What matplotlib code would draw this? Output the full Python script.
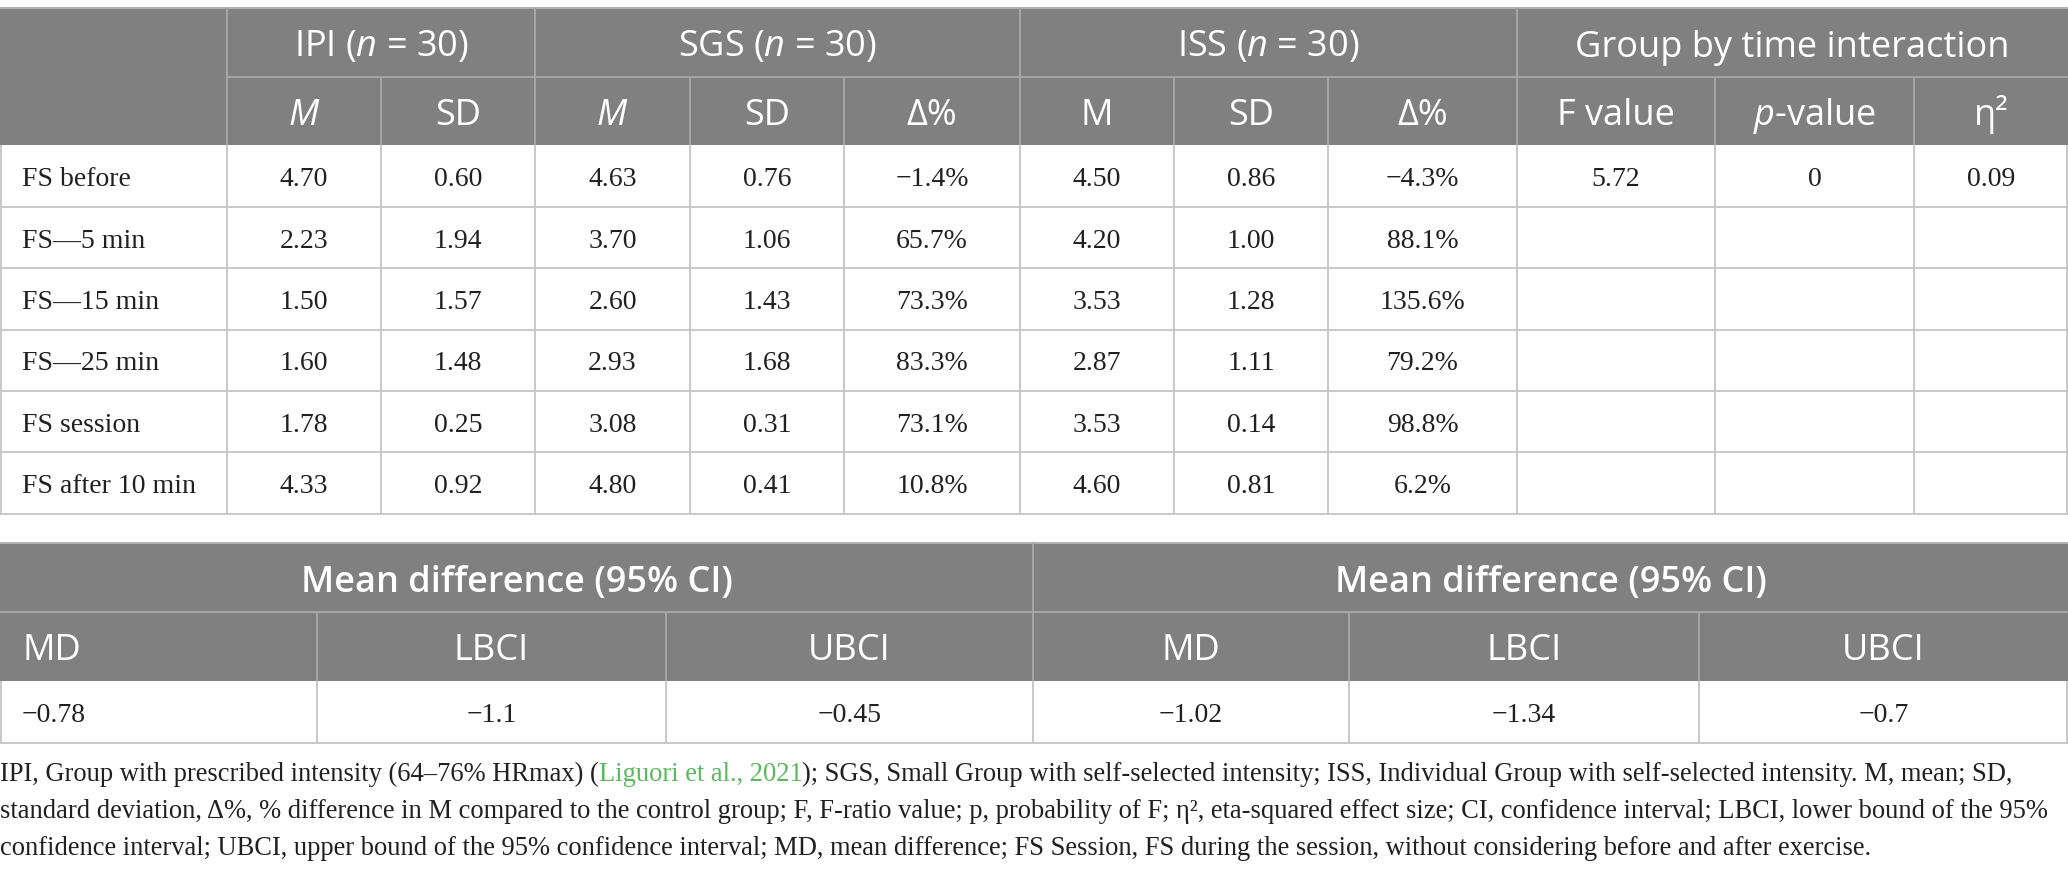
import matplotlib
matplotlib.use("Agg")
import matplotlib.pyplot as plt
from matplotlib.patches import Rectangle

# ---- data ----
row_labels = ["FS before", "FS\u20145 min", "FS\u201415 min", "FS\u201425 min", "FS session", "FS after 10 min"]
ipi_m = ["4.70", "2.23", "1.50", "1.60", "1.78", "4.33"]
ipi_sd = ["0.60", "1.94", "1.57", "1.48", "0.25", "0.92"]
sgs_m = ["4.63", "3.70", "2.60", "2.93", "3.08", "4.80"]
sgs_sd = ["0.76", "1.06", "1.43", "1.68", "0.31", "0.41"]
sgs_delta = ["\u22121.4%", "65.7%", "73.3%", "83.3%", "73.1%", "10.8%"]
iss_m = ["4.50", "4.20", "3.53", "2.87", "3.53", "4.60"]
iss_sd = ["0.86", "1.00", "1.28", "1.11", "0.14", "0.81"]
iss_delta = ["\u22124.3%", "88.1%", "135.6%", "79.2%", "98.8%", "6.2%"]
f_value = ["5.72", "", "", "", "", ""]
p_value = ["0", "", "", "", "", ""]
eta_sq = ["0.09", "", "", "", "", ""]

group_labels = ["IPI ($n$ = 30)", "SGS ($n$ = 30)", "ISS ($n$ = 30)", "Group by time interaction"]
sub_labels = ["$M$", "SD", "$M$", "SD", "\u0394%", "M", "SD", "\u0394%", "F value", "$p$-value", "\u03b7\u00b2"]

md_title = "Mean difference (95% CI)"
md_cols = ["MD", "LBCI", "UBCI"]
md_left = ["\u22120.78", "\u22121.1", "\u22120.45"]
md_right = ["\u22121.02", "\u22121.34", "\u22120.7"]

caption = [
    [("IPI, Group with prescribed intensity (64\u201376% HRmax) (", "k"),
     ("Liguori et al., 2021", "green"),
     ("); SGS, Small Group with self-selected intensity; ISS, Individual Group with self-selected intensity. M, mean; SD,", "k")],
    [("standard deviation, \u0394%, % difference in M compared to the control group; F, F-ratio value; p, probability of F; \u03b7\u00b2, eta-squared effect size; CI, confidence interval; LBCI, lower bound of the 95%", "k")],
    [("confidence interval; UBCI, upper bound of the 95% confidence interval; MD, mean difference; FS Session, FS during the session, without considering before and after exercise.", "k")],
]

# ---- style ----
plt.rcParams["mathtext.fontset"] = "custom"
plt.rcParams["mathtext.rm"] = "Open Sans"
plt.rcParams["mathtext.it"] = "Open Sans:italic"
plt.rcParams["mathtext.bf"] = "Open Sans:bold"

HEAD = "#808080"
HEAD_LINE = "#a8a8a8"
BODY_LINE = "#c4c4c4"
TXT = "#231f20"
GREEN = "#5cb85c"
SANS = "Open Sans"
SERIF = "Liberation Serif"
head_fs = 26
body_fs = 20
head_drop = 14   # baseline below cell centre, header text
body_drop = 10   # baseline below cell centre, body text

W, H = 2068, 874
fig = plt.figure(figsize=(W / 100, H / 100), dpi=100)
ax = fig.add_axes([0, 0, 1, 1])
ax.set_xlim(0, W)
ax.set_ylim(H, 0)
ax.axis("off")


def hline(y, x0, x1, c, lw=1.3):
    ax.plot([x0, x1], [y, y], color=c, lw=lw, solid_capstyle="butt")


def vline(x, y0, y1, c, lw=1.3):
    ax.plot([x, x], [y0, y1], color=c, lw=lw, solid_capstyle="butt")


def head_text(x, y0, y1, s, ha="center", weight="normal"):
    ax.text(x, (y0 + y1) / 2 + head_drop, s, color="white", fontsize=head_fs,
            family=SANS, weight=weight, ha=ha, va="baseline")


def body_text(x, y0, y1, s, ha="center"):
    ax.text(x, (y0 + y1) / 2 + body_drop, s, color=TXT, fontsize=body_fs,
            family=SERIF, ha=ha, va="baseline")


# ---- top table ----
cx = [0, 227, 381, 535, 690, 844, 1020, 1174, 1328, 1517, 1715, 1914, W]
ry = [145, 207, 268, 330, 391, 452, 514]
top, mid = 8, 77

ax.add_patch(Rectangle((0, top), W, ry[0] - top, color=HEAD, lw=0))
hline(top, 0, W, "#b0b0b0", 1.5)
hline(mid, cx[1], W, HEAD_LINE)
group_edges = [1, 3, 6, 9, 12]
for i, x in enumerate(cx[1:-1], start=1):
    vline(x, top if i in group_edges else mid, ry[0], HEAD_LINE)

for g, lab in enumerate(group_labels):
    x0, x1 = cx[group_edges[g]], cx[group_edges[g + 1]]
    head_text((x0 + x1) / 2, top, mid, lab)
for j, lab in enumerate(sub_labels):
    head_text((cx[j + 1] + cx[j + 2]) / 2, mid, ry[0], lab)

columns = [ipi_m, ipi_sd, sgs_m, sgs_sd, sgs_delta, iss_m, iss_sd, iss_delta, f_value, p_value, eta_sq]
for r in range(len(row_labels)):
    body_text(22, ry[r], ry[r + 1], row_labels[r], ha="left")
    for j, col in enumerate(columns):
        body_text((cx[j + 1] + cx[j + 2]) / 2, ry[r], ry[r + 1], col[r])
    hline(ry[r + 1], 0, W, BODY_LINE)
for x in cx:
    xx = min(max(x, 0.7), W - 0.7)
    vline(xx, ry[0], ry[-1], BODY_LINE)

# ---- mean difference table ----
mx = [0, 317, 666, 1033, 1349, 1699, W]
m_top, m_mid, m_hdr, m_bot = 543, 612, 681, 743
ax.add_patch(Rectangle((0, m_top), W, m_hdr - m_top, color=HEAD, lw=0))
hline(m_top, 0, W, "#b0b0b0", 1.5)
hline(m_mid, 0, W, HEAD_LINE)
vline(mx[3], m_top, m_hdr, HEAD_LINE)
for x in [mx[1], mx[2], mx[4], mx[5]]:
    vline(x, m_mid, m_hdr, HEAD_LINE)
for half in range(2):
    x0, x1 = mx[3 * half], mx[3 * half + 3]
    head_text((x0 + x1) / 2, m_top, m_mid, md_title, weight="semibold")
    vals = md_left if half == 0 else md_right
    for j in range(3):
        a, b = mx[3 * half + j], mx[3 * half + j + 1]
        if half == 0 and j == 0:
            xt, ha = 22, "left"
        else:
            xt, ha = (a + b) / 2, "center"
        head_text(xt, m_mid, m_hdr, md_cols[j], ha=ha)
        body_text(xt, m_hdr, m_bot, vals[j], ha=ha)
hline(m_bot, 0, W, BODY_LINE)
for x in mx:
    xx = min(max(x, 0.7), W - 0.7)
    vline(xx, m_hdr, m_bot, BODY_LINE)

# ---- caption ----
renderer = fig.canvas.get_renderer()
probe = ax.text(0, 0, caption[1][0][0], fontsize=20, family=SERIF)
w = probe.get_window_extent(renderer).width
probe.remove()
cap_fs = 20 * 2053 / w
baselines = [781, 818, 855]
for line, yb in zip(caption, baselines):
    x = 0
    for seg, c in line:
        t = ax.text(x, yb, seg, fontsize=cap_fs, family=SERIF, color=TXT if c == "k" else GREEN,
                    ha="left", va="baseline")
        bb = t.get_window_extent(renderer)
        x += bb.width * W / fig.bbox.width

fig.savefig("out.png", dpi=100)
